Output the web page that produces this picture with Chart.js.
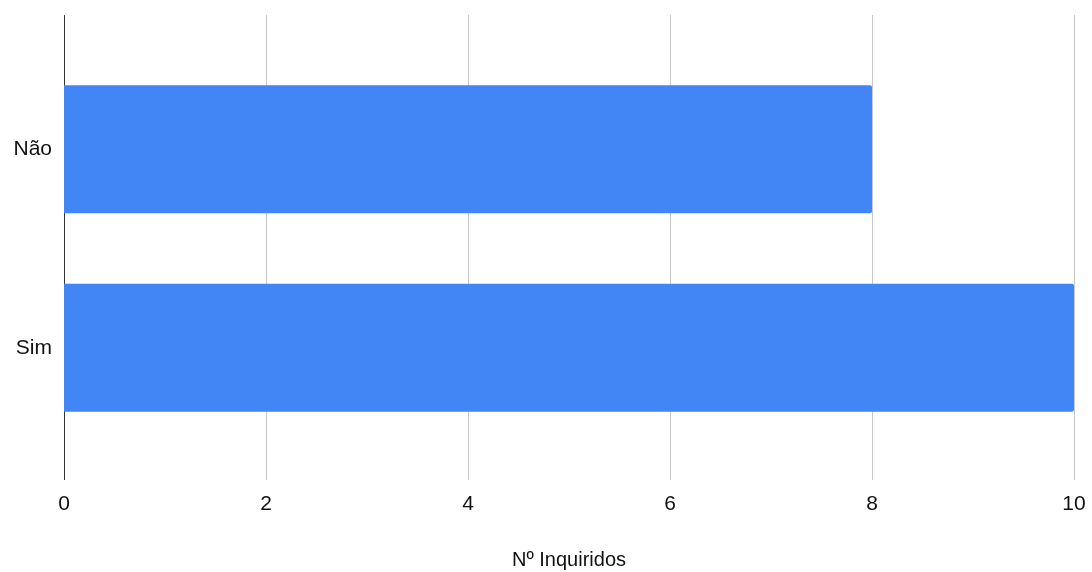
<!DOCTYPE html>
<html><head><meta charset="utf-8">
<script src="https://cdn.jsdelivr.net/npm/chart.js@4"></script>
<style>html,body{margin:0;padding:0;background:#fff}#wrap{width:1092px;height:572px}</style>
</head><body><div id="wrap"><canvas id="c"></canvas></div>
<script>
const categories = ['Não', 'Sim'];
const values = [8, 10];
const xTicks = [0, 2, 4, 6, 8, 10];
const xTitle = 'Nº Inquiridos';

const gridPlugin = {
  id: 'extGrid',
  beforeDatasetsDraw(chart) {
    const ctx = chart.ctx, xs = chart.scales.x;
    const top = 15, bottom = 480;
    ctx.save();
    ctx.lineWidth = 1;
    xTicks.forEach(v => {
      const px = Math.round(xs.getPixelForValue(v)) + 0.5;
      ctx.strokeStyle = v === 0 ? '#333333' : '#c8c8c8';
      ctx.beginPath(); ctx.moveTo(px, top); ctx.lineTo(px, bottom); ctx.stroke();
    });
    ctx.restore();
  }
};

new Chart(document.getElementById('c'), {
  type: 'bar',
  data: { labels: categories, datasets: [{ data: values, backgroundColor: '#4285F4', borderRadius: 2, borderSkipped: 'start', barPercentage: 0.645, categoryPercentage: 1 }] },
  options: {
    indexAxis: 'y', responsive: true, maintainAspectRatio: false, animation: false,
    layout: { padding: { top: 50, right: 18, left: 0, bottom: 0 } },
    plugins: { legend: { display: false }, tooltip: { enabled: false } },
    scales: {
      x: {
        min: 0, max: 10,
        grid: { display: false }, border: { display: false },
        ticks: { stepSize: 2, color: '#111', padding: 37, font: { family: 'Liberation Sans', size: 21 } },
        title: { display: true, text: xTitle, color: '#111', font: { family: 'Liberation Sans', size: 20 }, padding: { top: 20, bottom: 0 } },
        afterFit(s) { s.height = 125; s.paddingLeft = 0; s.paddingRight = 0; }
      },
      y: {
        grid: { display: false }, border: { display: false },
        ticks: { color: '#111', padding: 4, font: { family: 'Liberation Sans', size: 21 } },
        afterFit(s) { s.width = 64; s.paddingTop = 0; s.paddingBottom = 0; }
      }
    }
  },
  plugins: [gridPlugin]
});
</script></body></html>
